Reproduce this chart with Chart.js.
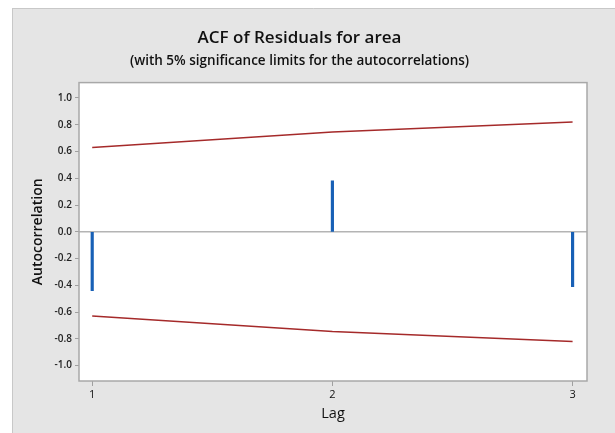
<!DOCTYPE html>
<html>
<head>
<meta charset="utf-8">
<script src="https://cdn.jsdelivr.net/npm/chart.js@4.4.1/dist/chart.umd.min.js"></script>
<style>
  html, body { margin: 0; padding: 0; background: #ffffff; }
  #wrap { width: 615px; height: 433px; position: relative; }
</style>
</head>
<body>
<div id="wrap"><canvas id="acf" width="615" height="433"></canvas></div>
<script>
// Residual autocorrelations by lag
const lags = [1, 2, 3];
const acfValues = [-0.44, 0.38, -0.41];
// 5% significance limits (upper; the lower limit mirrors it)
const upperLimits = [0.63, 0.745, 0.82];
const lowerLimits = upperLimits.map(v => -v);
const yTickValues = [-1.0, -0.8, -0.6, -0.4, -0.2, 0.0, 0.2, 0.4, 0.6, 0.8, 1.0];

const FONT = '"Open Sans", "Noto Sans", sans-serif';

// Panel background, white plot area and zero reference line
const framePlugin = {
  id: 'frame',
  beforeDraw(chart) {
    const { ctx, chartArea: a } = chart;
    ctx.save();
    ctx.fillStyle = '#e5e5e5';
    ctx.fillRect(12, 8, chart.width - 12, chart.height - 8);
    ctx.strokeStyle = '#c8c8c8';
    ctx.lineWidth = 1;
    ctx.beginPath();
    ctx.moveTo(12.5, 8); ctx.lineTo(12.5, chart.height);
    ctx.moveTo(12, 8.5); ctx.lineTo(chart.width, 8.5);
    ctx.stroke();
    ctx.fillStyle = '#ffffff';
    ctx.fillRect(a.left, a.top, a.right - a.left, a.bottom - a.top);
    ctx.restore();
  },
  beforeDatasetsDraw(chart) {
    const { ctx, chartArea: a, scales } = chart;
    const y0 = scales.y.getPixelForValue(0);
    ctx.save();
    ctx.strokeStyle = '#b4b4b4';
    ctx.lineWidth = 1.5;
    ctx.beginPath();
    ctx.moveTo(a.left, y0);
    ctx.lineTo(a.right, y0);
    ctx.stroke();
    ctx.restore();
  },
  afterDraw(chart) {
    const { ctx, chartArea: a } = chart;
    ctx.save();
    ctx.strokeStyle = '#a8a8a8';
    ctx.lineWidth = 1.5;
    ctx.strokeRect(a.left, a.top, a.right - a.left, a.bottom - a.top);
    ctx.restore();
  }
};

const acfPoints = lags.map((l, i) => ({ x: l, y: acfValues[i] }));
const upperPoints = lags.map((l, i) => ({ x: l, y: upperLimits[i] }));
const lowerPoints = lags.map((l, i) => ({ x: l, y: lowerLimits[i] }));

new Chart(document.getElementById('acf'), {
  type: 'bar',
  data: {
    datasets: [
      {
        type: 'bar',
        label: 'ACF',
        data: acfPoints,
        backgroundColor: '#1860b6',
        borderWidth: 0,
        barThickness: 2.5,
        order: 2
      },
      {
        type: 'line',
        label: 'Upper limit',
        data: upperPoints,
        borderColor: '#a52a2a',
        borderWidth: 1.5,
        pointRadius: 0,
        tension: 0,
        fill: false,
        order: 1
      },
      {
        type: 'line',
        label: 'Lower limit',
        data: lowerPoints,
        borderColor: '#a52a2a',
        borderWidth: 1.5,
        pointRadius: 0,
        tension: 0,
        fill: false,
        order: 1
      }
    ]
  },
  options: {
    responsive: false,
    animation: false,
    events: [],
    layout: { padding: { left: 12, top: 8, right: 28, bottom: 0 } },
    plugins: {
      legend: { display: false },
      tooltip: { enabled: false },
      title: {
        display: true,
        text: 'ACF of Residuals for area',
        color: '#111111',
        font: { family: FONT, size: 17, weight: '600' },
        padding: { top: 20, bottom: 5 }
      },
      subtitle: {
        display: true,
        text: '(with 5% significance limits for the autocorrelations)',
        color: '#111111',
        font: { family: FONT, size: 13.5, weight: '600' },
        padding: { top: 0, bottom: 13 }
      }
    },
    scales: {
      x: {
        type: 'linear',
        min: 0.945,
        max: 3.06,
        offset: false,
        afterBuildTicks(scale) {
          scale.ticks = lags.map(v => ({ value: v }));
        },
        afterFit(scale) { scale.height = 52; },
        grid: {
          display: true,
          offset: false,
          drawOnChartArea: false,
          drawTicks: true,
          tickLength: 5,
          color: '#a0a0a0'
        },
        border: { display: false },
        ticks: {
          color: '#111111',
          font: { family: FONT, size: 11 },
          padding: 2,
          maxRotation: 0,
          callback: v => String(v)
        },
        title: {
          display: true,
          text: 'Lag',
          color: '#111111',
          font: { family: FONT, size: 14.5, weight: '500' },
          padding: { top: 0, bottom: 10 }
        }
      },
      y: {
        type: 'linear',
        min: -1.115,
        max: 1.115,
        afterBuildTicks(scale) {
          scale.ticks = yTickValues.map(v => ({ value: v }));
        },
        afterFit(scale) { scale.width = 67; },
        grid: {
          display: true,
          drawOnChartArea: false,
          drawTicks: true,
          tickLength: 4,
          color: '#a0a0a0'
        },
        border: { display: false },
        ticks: {
          color: '#222222',
          font: { family: FONT, size: 10, weight: '600' },
          padding: 3,
          callback: v => v.toFixed(1)
        },
        title: {
          display: true,
          text: 'Autocorrelation',
          color: '#111111',
          font: { family: FONT, size: 14, weight: '600' },
          padding: { top: 18, bottom: 0 }
        }
      }
    }
  },
  plugins: [framePlugin]
});
</script>
</body>
</html>
